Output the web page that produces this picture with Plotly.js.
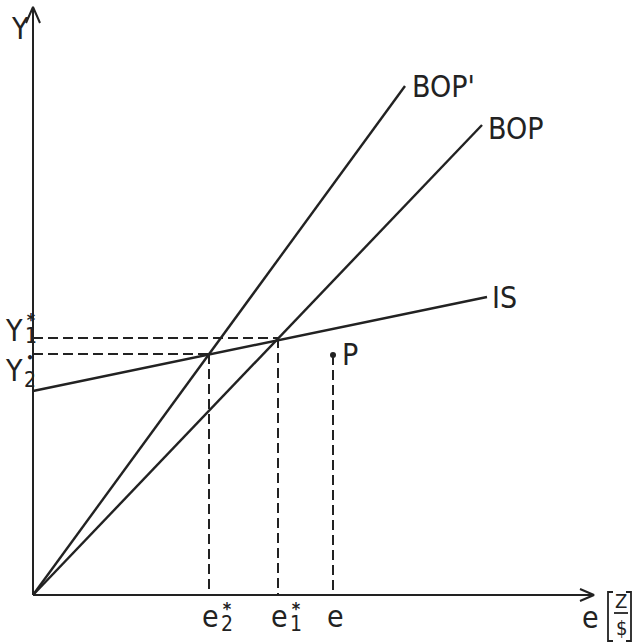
<!DOCTYPE html>
<html>
<head>
<meta charset="utf-8">
<script src="https://cdn.plot.ly/plotly-3.0.1.min.js"></script>
<style>html,body{margin:0;padding:0;background:#fff;}#chart{width:634px;height:643px;}</style>
</head>
<body>
<div id="chart"></div>
<script>
// Curves: straight lines from start to end point (chart units, origin at axes corner)
const curveNames = ["BOP'", "BOP", "IS"];
const curveX0 = [0, 0, 0];
const curveY0 = [0, 0, 204];
const curveX1 = [372, 449, 454];
const curveY1 = [509, 470, 298];

// Equilibria (intersection of IS with BOP and BOP')
const eqNames = ["1", "2"];
const eqMarks = ["*", "•"];   // superscript marks on Y1, Y2 as printed
const eqE = [245, 176];
const eqY = [257, 241];

// Point P
const pointE = 300;
const pointY = 240;

// Axis extents
const xAxisEnd = 561;
const yAxisEnd = 588;

const ink = "#222";
const FONT = "Liberation Sans Narrow, DejaVu Sans Condensed, Roboto, sans-serif";

const traces = [];
// axes
traces.push({x: [0, xAxisEnd], y: [0, 0], mode: "lines", line: {color: ink, width: 2}, hoverinfo: "skip", cliponaxis: false});
traces.push({x: [0, 0], y: [0, yAxisEnd], mode: "lines", line: {color: ink, width: 2}, hoverinfo: "skip", cliponaxis: false});
// arrowheads
traces.push({x: [-7, 0, 7], y: [yAxisEnd - 16, yAxisEnd, yAxisEnd - 16], mode: "lines", line: {color: ink, width: 2}, hoverinfo: "skip", cliponaxis: false});
traces.push({x: [xAxisEnd - 14, xAxisEnd, xAxisEnd - 14], y: [6, 0, -6], mode: "lines", line: {color: ink, width: 2}, hoverinfo: "skip", cliponaxis: false});

// curves
for (let i = 0; i < curveNames.length; i++) {
  traces.push({x: [curveX0[i], curveX1[i]], y: [curveY0[i], curveY1[i]], mode: "lines", name: curveNames[i], line: {color: ink, width: 2.4}, hoverinfo: "skip", cliponaxis: false});
}

// dashed guide lines for equilibria
const dash = "10px,5px";
for (let i = 0; i < eqE.length; i++) {
  traces.push({x: [0, eqE[i]], y: [eqY[i], eqY[i]], mode: "lines", line: {color: ink, width: 2, dash: dash}, hoverinfo: "skip", cliponaxis: false});
  traces.push({x: [eqE[i], eqE[i]], y: [eqY[i], 0], mode: "lines", line: {color: ink, width: 2, dash: dash}, hoverinfo: "skip", cliponaxis: false});
}
// point P
traces.push({x: [pointE, pointE], y: [pointY, 0], mode: "lines", line: {color: ink, width: 2, dash: dash}, hoverinfo: "skip", cliponaxis: false});
traces.push({x: [pointE], y: [pointY], mode: "markers", marker: {color: ink, size: 6}, hoverinfo: "skip", cliponaxis: false});

function txt(x, y, text, size, xanchor) {
  return {x: x, y: y, xref: "x", yref: "y", text: text, showarrow: false,
          xanchor: xanchor || "center", yanchor: "middle", borderpad: 0,
          font: {family: FONT, size: size, color: ink}};
}
// stacked mark (top) over index (bottom)
function stack(x, y, mark, markSize, index, lineSize) {
  const t = "<span style='font-size:" + markSize + "px;font-weight:bold'>" + mark + "</span><br>" +
            "<span style='font-size:21px'>" + index + "</span>";
  return txt(x, y, t, lineSize, "left");
}

const ann = [];
ann.push(txt(-13, 567, "Y", 30));
ann.push(txt(curveX1[0] + 6, curveY1[0], curveNames[0], 30, "left"));
ann.push(txt(curveX1[1] + 5, curveY1[1] - 3, curveNames[1], 30, "left"));
ann.push(txt(curveX1[2] + 4, curveY1[2], curveNames[2], 30, "left"));
ann.push(txt(pointE + 8, pointY + 1, "P", 30, "left"));
// Y1*, Y2*
ann.push(txt(-19.5, eqY[0] + 8, "Y", 30));
ann.push(stack(-9, eqY[0] + 10, eqMarks[0], 18, eqNames[0], 13));
ann.push(txt(-19.5, eqY[1] - 16, "Y", 30));
ann.push(stack(-10, eqY[1] - 17, eqMarks[1], 13, eqNames[1], 19));
// e2*, e1*, e
for (let i = 0; i < eqE.length; i++) {
  ann.push(txt(eqE[i] + 1, -21, "e", 30));
  ann.push(stack(eqE[i] + 11, -22, "*", 18, eqNames[i], 12));
}
ann.push(txt(pointE + 2, -21, "e", 30));
// axis label e [Z/$]
ann.push(txt(557, -22, "e", 30));
ann.push(txt(588, -6, "Z", 20));
ann.push(txt(588, -33, "$", 20));

const shapes = [];
const sl = {color: ink, width: 1.8};
// brackets
shapes.push({type: "path", xref: "x", yref: "y", path: "M 580 3 L 575 3 L 575 -46 L 580 -46", line: sl});
shapes.push({type: "path", xref: "x", yref: "y", path: "M 593 3 L 598 3 L 598 -46 L 593 -46", line: sl});
// fraction bar
shapes.push({type: "line", xref: "x", yref: "y", x0: 581, x1: 595, y0: -18, y1: -18, line: sl});

const layout = {
  width: 634, height: 643,
  margin: {l: 0, r: 0, t: 0, b: 0, pad: 0},
  paper_bgcolor: "#fff", plot_bgcolor: "#fff",
  showlegend: false,
  xaxis: {range: [-33, 601], visible: false, fixedrange: true},
  yaxis: {range: [-48, 595], visible: false, fixedrange: true},
  annotations: ann,
  shapes: shapes
};

Plotly.newPlot("chart", traces, layout, {staticPlot: true, displayModeBar: false});
</script>
</body>
</html>
